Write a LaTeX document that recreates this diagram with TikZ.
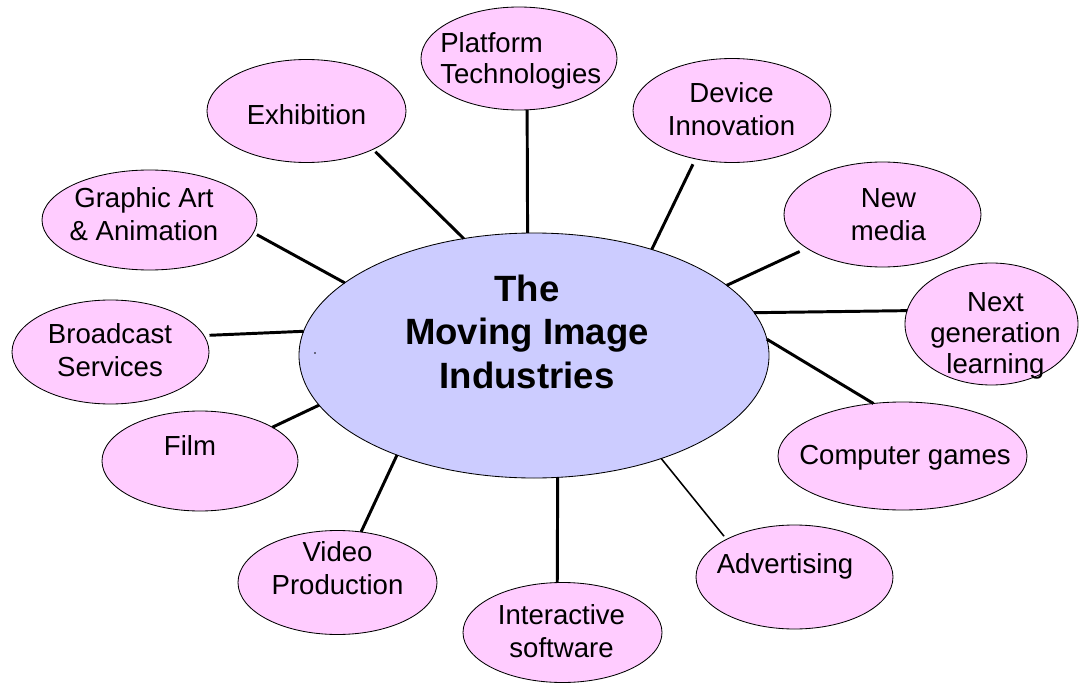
\documentclass[tikz,border=0pt]{standalone}
\usepackage{fontspec}
\setmainfont{Liberation Sans}
\usetikzlibrary{shapes.geometric}
\definecolor{pinkfill}{RGB}{255,204,255}
\definecolor{hubfill}{RGB}{204,204,255}
\begin{document}
\begin{tikzpicture}[x=0.025cm,y=-0.025cm,
  axes/.style 2 args={minimum width=#1*0.025cm, minimum height=#2*0.025cm},
  bubble/.style={ellipse, draw=black, line width=0.6pt, fill=pinkfill, inner sep=0pt, outer sep=0pt},
  hubshape/.style={ellipse, draw=black, line width=0.6pt, fill=hubfill, inner sep=0pt, outer sep=0pt},
  lbl/.style={inner sep=0pt, align=center, anchor=base, font=\fontsize{19.6}{23.1}\selectfont},
  tightlbl/.style={lbl, font=\fontsize{19.6}{21.8}\selectfont},
  hublbl/.style={inner sep=0pt, align=center, anchor=base, font=\bfseries\fontsize{26}{30.9}\selectfont},
  link/.style={line width=2.1pt, black},
  thinlink/.style={line width=1.1pt, black}]

% canvas
\fill[white] (0,0) rectangle (1080,683);
\useasboundingbox (0,0) rectangle (1080,683);

% central hub
\node[hubshape, axes={470}{245}] (hub) at (534,355.5) {};
\fill (315,353) circle[radius=0.6pt];

% surrounding bubbles
\node[bubble, axes={196}{103}] (plat)  at (519,58.5)   {};
\node[bubble, axes={199}{103}] (exh)   at (306.5,111)  {};
\node[bubble, axes={198}{104}] (dev)   at (732,110.5)  {};
\node[bubble, axes={197}{105}] (newm)  at (882.5,214.5){};
\node[bubble, axes={173}{122}] (next)  at (991.5,324)  {};
\node[bubble, axes={249}{108}] (games) at (902.5,456)  {};
\node[bubble, axes={197}{104}] (adv)   at (794.5,577)  {};
\node[bubble, axes={199}{100}] (inter) at (562.5,632.5){};
\node[bubble, axes={199}{104}] (video) at (337.5,582.5){};
\node[bubble, axes={196}{100}] (film)  at (200,461)    {};
\node[bubble, axes={197}{104}] (broad) at (110.5,352)  {};
\node[bubble, axes={215}{100}] (graph) at (149.5,220)  {};

% spokes
\draw[link, shorten >=0.085cm] (hub.121.6) -- (exh.-30.7);
\draw[link] (hub.93.3) -- (plat.-81.2);
\draw[link, shorten >=0.15cm] (hub.42.8) -- (dev.-127.5);
\draw[link, shorten >=0.2cm] (hub.20.3) -- (newm.-156.5);
\draw[link] (hub.11.1) -- (next.171.5);
\draw[link] (hub.4.5) -- (games.119.6);
\draw[thinlink, shorten >=0.1cm] (hub.-39.5) -- (adv.151.8);
\draw[link] (hub.-79.4) -- (inter.96);
\draw[link] (hub.-144.8) -- (video.65.7);
\draw[link] (hub.-167.3) -- (film.25.9);
\draw[link, shorten >=0.14cm] (hub.174.8) -- (broad.10.4);
\draw[link, shorten >=0.1cm] (hub.159.7) -- (graph.-7.1);

% labels
\node[hublbl] (hub-t) at (527,388) {The\\Moving Image\\Industries};
\node[tightlbl, anchor=base west, align=left] (plat-t) at (440,83) {Platform\\Technologies};
\node[lbl] (exh-t) at (306.5,125) {Exhibition};
\node[lbl] (dev-t) at (731.5,135) {Device\\Innovation};
\node[lbl] (newm-t) at (888.5,240) {New\\media};
\node[tightlbl] (next-t) at (995.5,373) {Next\\generation\\learning};
\node[lbl] (games-t) at (905,464) {Computer games};
\node[lbl] (adv-t) at (785,573) {Advertising};
\node[lbl] (inter-t) at (561.5,657) {Interactive\\software};
\node[lbl] (video-t) at (337.5,594) {Video\\Production};
\node[lbl] (film-t) at (190,455) {Film};
\node[lbl] (broad-t) at (110,376) {Broadcast\\Services};
\node[lbl] (graph-t) at (144,240) {Graphic Art\\\& Animation};
\end{tikzpicture}
\end{document}
